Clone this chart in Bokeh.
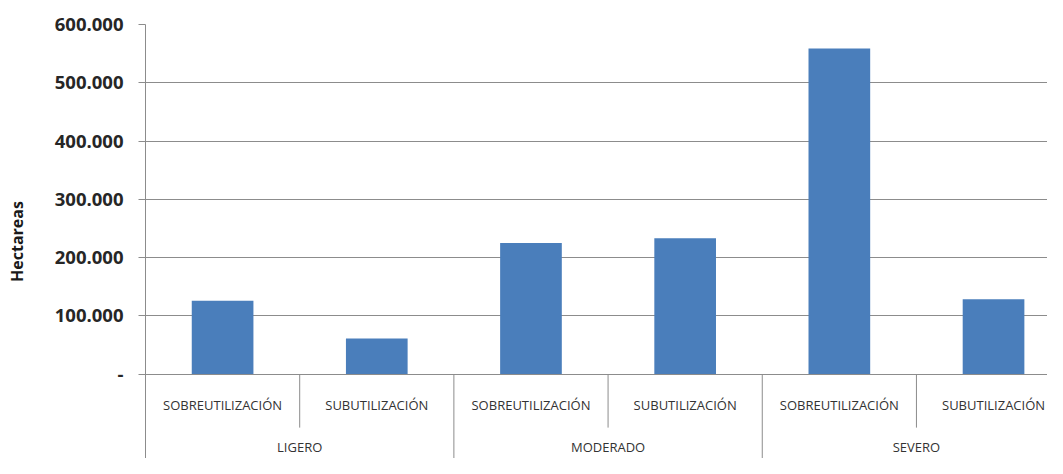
from bokeh.plotting import figure
from bokeh.models import Range1d, FixedTicker, ColumnDataSource
from bokeh.core.properties import value
from bokeh.embed import file_html
from bokeh.resources import INLINE

# ---- data ----
groups = ["LIGERO", "MODERADO", "SEVERO"]
subcats = ["SOBREUTILIZACIÓN", "SUBUTILIZACIÓN"]
hectareas = [126000, 61000, 225000, 233000, 559000, 128500]
y_ticks = [0, 100000, 200000, 300000, 400000, 500000, 600000]
y_tick_labels = ["-", "100.000", "200.000", "300.000", "400.000", "500.000", "600.000"]
y_title = "Hectareas"

# ---- derived positions (category slots of width 1) ----
n = len(groups) * len(subcats)
bar_x = [i + 0.5 for i in range(n)]
sub_labels = [s for g in groups for s in subcats]
group_x = [len(subcats) * (i + 0.5) for i in range(len(groups))]

FONT = "Open Sans"
GRID = "#8c8c8c"
Y_BOTTOM = -145000
Y_SUB = -54000
Y_GROUP = -126000
Y_SHORT = -92000

p = figure(width=1047, height=458, output_backend="svg", toolbar_location=None,
           x_range=Range1d(0, 5.85), y_range=Range1d(Y_BOTTOM, 600000),
           x_axis_location=None, min_border_left=145, min_border_top=24,
           min_border_bottom=0, min_border_right=0)
p.outline_line_color = None
p.background_fill_color = "white"
p.border_fill_color = "white"

# y axis
ya = p.yaxis[0]
ya.ticker = FixedTicker(ticks=y_ticks)
ya.major_label_overrides = {t: lab for t, lab in zip(y_ticks, y_tick_labels)}
ya.axis_line_color = GRID
ya.major_tick_line_color = GRID
ya.major_tick_in = 0
ya.major_tick_out = 7
ya.minor_tick_line_color = None
ya.major_label_standoff = 15
ya.major_label_text_font = FONT
ya.major_label_text_font_style = "bold"
ya.major_label_text_font_size = "18.5px"
ya.major_label_text_color = "#262626"
ya.axis_label = y_title
ya.axis_label_text_font = FONT
ya.axis_label_text_font_style = "bold"
ya.axis_label_text_font_size = "16px"
ya.axis_label_text_color = "#1a1a1a"
ya.axis_label_standoff = 24

p.xgrid.visible = False
p.ygrid.ticker = FixedTicker(ticks=y_ticks)
p.ygrid.grid_line_color = GRID
p.ygrid.grid_line_width = 1

# bars
src = ColumnDataSource(dict(x=bar_x, top=hectareas))
p.vbar(x="x", top="top", bottom=0, width=0.4, source=src,
       fill_color="#4a7ebb", line_color=None)

# category separators below the baseline
sub_sep_x = [len(subcats) * i + 1 for i in range(len(groups))]
grp_sep_x = [len(subcats) * i for i in range(1, len(groups) + 1)]
p.segment(x0=sub_sep_x, y0=[0] * len(sub_sep_x), x1=sub_sep_x,
          y1=[Y_SHORT] * len(sub_sep_x), line_color=GRID, line_width=1)
p.segment(x0=grp_sep_x, y0=[0] * len(grp_sep_x), x1=grp_sep_x,
          y1=[Y_BOTTOM] * len(grp_sep_x), line_color=GRID, line_width=1)

# category labels
p.text(x=bar_x, y=[Y_SUB] * n, text=sub_labels, text_align="center",
       text_baseline="middle", text_font=value(FONT), text_font_size="13px",
       text_color="#333333")
p.text(x=group_x, y=[Y_GROUP] * len(groups), text=groups, text_align="center",
       text_baseline="middle", text_font=value(FONT), text_font_size="13px",
       text_color="#333333")

open("out.html", "w").write(file_html(p, INLINE))
